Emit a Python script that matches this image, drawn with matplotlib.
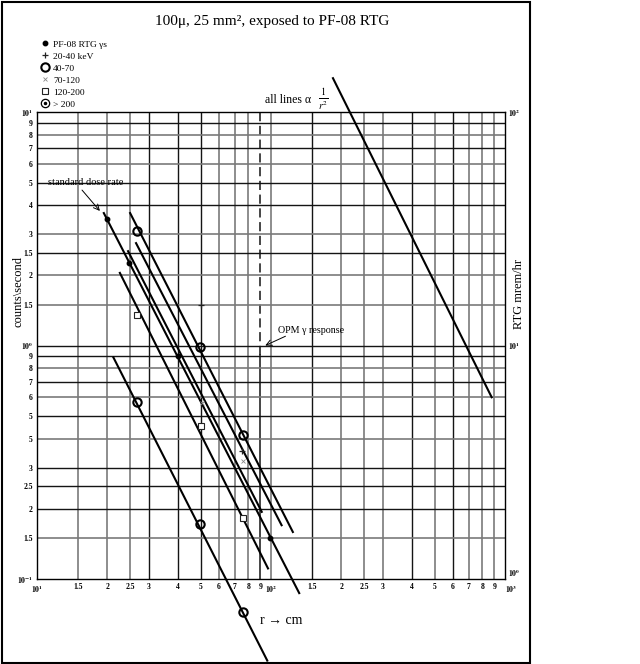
import matplotlib
matplotlib.use("Agg")
import matplotlib.pyplot as plt
import matplotlib.ticker as mticker
from matplotlib.lines import Line2D
from matplotlib.patches import Rectangle

plt.rcParams['font.family'] = ['Liberation Serif', 'DejaVu Serif']
plt.rcParams['mathtext.fontset'] = 'stix'

# measured points (r in cm, counts/second)
pf08_r = [19.9, 24.8, 40.0, 99.0]
pf08_cps = [3.5, 2.27, 0.90, 0.150]
kev20_r = [50.2, 75.4]
kev20_cps = [1.49, 0.354]
kev40_r = [26.7, 49.7, 75.9, 26.7, 49.7, 76.1]
kev40_cps = [3.10, 0.987, 0.414, 0.572, 0.1715, 0.072]
kev70_r = [50.5, 75.7]
kev70_cps = [0.57, 0.32]
kev120_r = [26.8, 50.2, 76.1]
kev120_cps = [1.35, 0.454, 0.183]

# 1/r^2 lines, start and end points
line_r0 = [19.3, 25.0, 26.5, 24.5, 22.6, 21.2, 184.0]
line_c0 = [3.70, 3.70, 2.75, 2.54, 2.05, 0.891, 14.0]
line_r1 = [132.0, 124.0, 111.0, 91.3, 97.1, 96.4, 877.0]
line_c1 = [0.087, 0.159, 0.170, 0.194, 0.111, 0.0447, 0.601]

opm_r = 90.0
opm_cps = [0.91, 10.0]

x_ticks = [10, 15, 20, 25, 30, 40, 50, 60, 70, 80, 90,
           100, 150, 200, 250, 300, 400, 500, 600, 700, 800, 900, 1000]
x_labels = [r'$\mathbf{10^{1}}$', '1.5', '2', '2.5', '3', '4', '5', '6', '7', '8', '9',
            r'$\mathbf{10^{2}}$', '1.5', '2', '2.5', '3', '4', '5', '6', '7', '8', '9',
            r'$\mathbf{10^{3}}$']
y_ticks = [10, 9, 8, 7, 6, 5, 4, 3, 2.5, 2, 1.5,
           1, 0.9, 0.8, 0.7, 0.6, 0.5, 0.4, 0.3, 0.25, 0.2, 0.15, 0.1]
y_labels = [r'$\mathbf{10^{1}}$', '9', '8', '7', '6', '5', '4', '3', '1.5', '2', '1.5',
            r'$\mathbf{10^{0}}$', '9', '8', '7', '6', '5', '5', '3', '2.5', '2', '1.5',
            r'$\mathbf{10^{-1}}$']
rtg_ticks = [1, 10, 100]
rtg_labels = [r'$\mathbf{10^{0}}$', r'$\mathbf{10^{1}}$', r'$\mathbf{10^{2}}$']

DARK = '#141414'
GREY = '#7a7a7a'
vgrid_col = [GREY, GREY, GREY, DARK, DARK, DARK, GREY, GREY, GREY, DARK,
             GREY, DARK, GREY, GREY, GREY, DARK, GREY, DARK, GREY, GREY, GREY]
hgrid_col = [DARK, GREY, DARK, GREY, DARK, DARK, GREY, DARK, GREY, GREY,
             DARK, DARK, GREY, DARK, GREY, DARK, GREY, DARK, DARK, DARK, GREY]

fig = plt.figure(figsize=(6.4, 6.64), dpi=100)
ax = fig.add_axes([37 / 640, 85 / 664, 468 / 640, 466.7 / 664])
ax.set_xscale('log')
ax.set_yscale('log')
ax.set_xlim(10, 1000)
ax.set_ylim(0.1, 10)

# graph paper grid
for xv, col in zip(x_ticks[1:-1], vgrid_col):
    if xv == opm_r:
        ax.plot([xv, xv], [0.1, opm_cps[0]], color=col, lw=1.1, zorder=1)
        ax.plot([xv, xv], opm_cps, color=col, lw=1.1, dashes=(6, 3), zorder=1)
    else:
        ax.axvline(xv, color=col, lw=1.2 if col == GREY else 1.0, zorder=1)
for yv, col in zip(y_ticks[1:-1], hgrid_col):
    ax.axhline(yv, color=col, lw=1.2 if col == GREY else 1.0, zorder=1)

for r0, c0, r1, c1 in zip(line_r0, line_c0, line_r1, line_c1):
    ax.plot([r0, r1], [c0, c1], color='black', lw=1.5, clip_on=False, zorder=3)

ax.plot(pf08_r, pf08_cps, ls='none', marker='o', ms=3.2, color='black',
        clip_on=False, zorder=4)
ax.plot(kev20_r, kev20_cps, ls='none', marker='+', ms=4, mew=0.9, color='#222222',
        clip_on=False, zorder=4)
ax.plot(kev40_r, kev40_cps, ls='none', marker='o', ms=6, mew=1.5, mfc='none', mec='black',
        clip_on=False, zorder=4)
ax.plot(kev70_r, kev70_cps, ls='none', marker='x', ms=3.5, mew=0.6, color='#888888',
        clip_on=False, zorder=4)
ax.plot(kev120_r, kev120_cps, ls='none', marker='s', ms=4.5, mew=0.8, mfc='white', mec='#222222',
        clip_on=False, zorder=4)

for s in ax.spines.values():
    s.set_color('black')
    s.set_linewidth(1.0)

ax.set_xticks(x_ticks, x_labels)
ax.set_yticks(y_ticks, y_labels)
ax.xaxis.set_minor_locator(mticker.NullLocator())
ax.yaxis.set_minor_locator(mticker.NullLocator())
ax.tick_params(length=0, labelsize=5.5)
ax.tick_params(axis='x', pad=3)
ax.tick_params(axis='y', pad=3)
for lab in ax.get_xticklabels() + ax.get_yticklabels():
    lab.set_fontweight('bold')
ax.get_xticklabels()[-1].set_ha('left')

ax2 = ax.twinx()
ax2.set_yscale('log')
ax2.set_ylim(1, 100)
ax2.set_yticks(rtg_ticks, rtg_labels)
ax2.yaxis.set_minor_locator(mticker.NullLocator())
ax2.tick_params(length=0, labelsize=5.5, pad=2)
ax2.get_yticklabels()[0].set_va('bottom')
for s in ax2.spines.values():
    s.set_visible(False)

# annotations
ax.text(11.1, 4.98, 'standard dose rate', fontsize=7.5, ha='left', va='center', zorder=5)
ax.annotate('', xy=(18.9, 3.70), xytext=(15.3, 4.74),
            arrowprops=dict(arrowstyle='->', lw=0.7, color='black'), zorder=5)
ax.text(107, 1.16, 'OPM γ response', fontsize=7.2, ha='left', va='center', zorder=5)
ax.annotate('', xy=(92.2, 0.99), xytext=(118.2, 1.11),
            arrowprops=dict(arrowstyle='->', lw=0.7, color='black'), zorder=5)

fig.text(272 / 640, 1 - 22 / 664, '100μ, 25 mm², exposed to PF-08 RTG',
         fontsize=11, ha='center', va='center')
fig.text(265 / 640, 1 - 100 / 664, 'all lines α', fontsize=8.5, ha='left', va='center')
fig.text(318 / 640, 1 - 99 / 664, r'$\frac{1}{r^2}$', fontsize=10.5, ha='left', va='center')
fig.text(260 / 640, 1 - 620 / 664, 'r → cm', fontsize=10, ha='left', va='center')
fig.text(18 / 640, 1 - 292 / 664, 'counts\\second', fontsize=9, rotation=90,
         ha='center', va='center')
fig.text(519 / 640, 1 - 294 / 664, 'RTG mrem/hr', fontsize=9, rotation=90,
         ha='center', va='center')

handles = [
    Line2D([], [], ls='none', marker='o', ms=3.2, color='black'),
    Line2D([], [], ls='none', marker='+', ms=4, mew=0.9, color='#222222'),
    Line2D([], [], ls='none', marker='o', ms=6, mew=1.5, mfc='none', mec='black'),
    Line2D([], [], ls='none', marker='x', ms=3.5, mew=0.6, color='#888888'),
    Line2D([], [], ls='none', marker='s', ms=4.5, mew=0.8, mfc='none', mec='#222222'),
    (Line2D([], [], ls='none', marker='o', ms=6, mew=0.9, mfc='none', mec='black'),
     Line2D([], [], ls='none', marker='o', ms=1.5, color='black')),
]
labels = ['PF-08 RTG γs', '20-40 keV', '40-70', '70-120', '120-200', '> 200']
fig.legend(handles, labels, loc='upper left', bbox_to_anchor=(41 / 640, 1 - 40 / 664),
           frameon=False, fontsize=6.8, handlelength=0.9, handletextpad=0.4,
           labelspacing=0.36, borderpad=0, borderaxespad=0)

fig.add_artist(Rectangle((1.5 / 640, 1.5 / 664), 528.5 / 640, 660.5 / 664,
                         transform=fig.transFigure, fill=False, lw=1.5, ec='black'))

fig.savefig('out.png', dpi=100)
